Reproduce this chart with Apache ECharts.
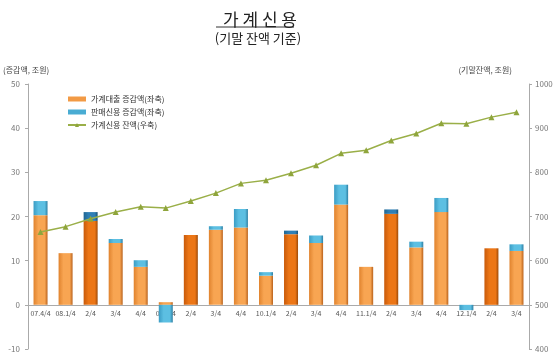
<!DOCTYPE html>
<html><head><meta charset="utf-8">
<script src="https://cdn.jsdelivr.net/npm/echarts@6/dist/echarts.min.js"></script>
<style>html,body{margin:0;padding:0;background:#fff}#c{width:560px;height:363px}</style>
</head><body><div id="c"></div>
<script>
const categories = ['07.4/4','08.1/4','2/4','3/4','4/4','09.1/4','2/4','3/4','4/4','10.1/4','2/4','3/4','4/4','11.1/4','2/4','3/4','4/4','12.1/4','2/4','3/4'];
const loanChange = [20.3, 11.7, 19.0, 14.0, 8.6, 0.6, 15.8, 17.0, 17.5, 6.6, 16.0, 14.0, 22.7, 8.6, 20.6, 13.0, 21.0, 0, 12.8, 12.2];
const salesCreditChange = [3.2, 0, 2.0, 0.9, 1.5, -4.0, 0, 0.8, 4.2, 0.8, 0.8, 1.7, 4.5, 0, 1.0, 1.3, 3.2, -1.2, 0, 1.5];
const householdCredit = [665, 677, 695, 710, 722, 719, 735, 753, 775, 782, 798, 816, 843, 850, 872, 888, 911, 910, 925, 936];
const leftTicks = [-10, 0, 10, 20, 30, 40, 50];
const rightTicks = [400, 500, 600, 700, 800, 900, 1000];

const KR = '"Noto Sans CJK KR", sans-serif';
function grad(c1, c2, c3) {
  return new echarts.graphic.LinearGradient(0, 0, 1, 0, [
    {offset: 0, color: c1}, {offset: 0.35, color: c2}, {offset: 0.8, color: c2}, {offset: 1, color: c3}]);
}
const orangeL = grad('#e0832e', '#f8a552', '#b9621c');
const orangeD = grad('#c85a0a', '#ec7616', '#9e4a08');
const blueL = grad('#3a9cc4', '#5cbfe2', '#2d7fa3');
const blueD = grad('#1f6591', '#2f7fb5', '#184f72');
const isQ2 = categories.map(c => c === '2/4');

const W = 560, H = 363;
const gridTop = 84, gridBottom = 14;
const lMin = leftTicks[0], lMax = leftTicks[leftTicks.length - 1];
const zeroOffset = -(H - gridTop - gridBottom) * (0 - lMin) / (lMax - lMin);

const chart = echarts.init(document.getElementById('c'));
chart.setOption({
  animation: false,
  textStyle: {fontFamily: KR},
  title: [{
    text: '가 계 신 용', left: 255, textAlign: 'center', top: 6,
    textStyle: {fontFamily: KR, fontSize: 17, fontWeight: 'normal', color: '#222'}
  }, {
    text: '(기말 잔액 기준)', left: 253, textAlign: 'center', top: 27,
    textStyle: {fontFamily: KR, fontSize: 13, fontWeight: 'normal', color: '#222'}
  }],
  graphic: [{type: 'line', shape: {x1: 216, y1: 27, x2: 294, y2: 27}, style: {stroke: '#333', lineWidth: 1}}],
  legend: {
    orient: 'vertical', left: 62, top: 90, itemGap: 5, itemWidth: 18, itemHeight: 5,
    textStyle: {fontFamily: KR, fontSize: 8, color: '#333'},
    data: [
      {name: '가계대출 증감액(좌축)', icon: 'rect', itemStyle: {color: '#f29a45'}},
      {name: '판매신용 증감액(좌축)', icon: 'rect', itemStyle: {color: '#49acd3'}},
      {name: '가계신용 잔액(우축)'}
    ]
  },
  grid: {left: 27, right: 31, top: gridTop, bottom: gridBottom},
  xAxis: {
    type: 'category', data: categories, position: 'bottom', offset: zeroOffset,
    axisLine: {onZero: false, lineStyle: {color: '#aaa'}},
    axisTick: {show: false},
    axisLabel: {fontSize: 7, color: '#555', margin: 5, interval: 0}
  },
  yAxis: [{
    type: 'value', min: lMin, max: lMax, interval: 10, name: '(증감액, 조원)',
    nameLocation: 'end', nameGap: 10, nameTextStyle: {fontSize: 8, color: '#444', align: 'left', padding: [0, 0, 0, -25]},
    axisLine: {show: true, lineStyle: {color: '#aaa'}},
    axisTick: {show: true, length: 3, lineStyle: {color: '#aaa'}},
    axisLabel: {fontSize: 8, color: '#777', margin: 8, formatter: v => leftTicks.includes(v) ? String(v) : ''},
    splitLine: {show: false}
  }, {
    type: 'value', min: 400, max: 1000, interval: 100, name: '(기말잔액, 조원)',
    nameLocation: 'end', nameGap: 10, nameTextStyle: {fontSize: 8, color: '#444', align: 'right', padding: [0, 17, 0, 0]},
    axisLine: {show: true, lineStyle: {color: '#aaa'}},
    axisTick: {show: true, length: 3, lineStyle: {color: '#aaa'}},
    axisLabel: {fontSize: 8, color: '#777', margin: 6, formatter: v => rightTicks.includes(v) ? String(v) : ''},
    splitLine: {show: false}
  }],
  series: [{
    name: '가계대출 증감액(좌축)', type: 'bar', stack: 'a', barWidth: 14,
    itemStyle: {color: '#f29a45'},
    data: loanChange.map((v, i) => ({value: v, itemStyle: {color: isQ2[i] ? orangeD : orangeL}}))
  }, {
    name: '판매신용 증감액(좌축)', type: 'bar', stack: 'a', barWidth: 14,
    itemStyle: {color: '#49acd3'},
    data: salesCreditChange.map((v, i) => ({value: v, itemStyle: {color: isQ2[i] ? blueD : blueL}}))
  }, {
    name: '가계신용 잔액(우축)', type: 'line', yAxisIndex: 1, data: householdCredit,
    symbol: 'triangle', symbolSize: 6,
    lineStyle: {color: '#9aaf48', width: 1.5},
    itemStyle: {color: '#8fa53c'}
  }]
});
</script></body></html>
